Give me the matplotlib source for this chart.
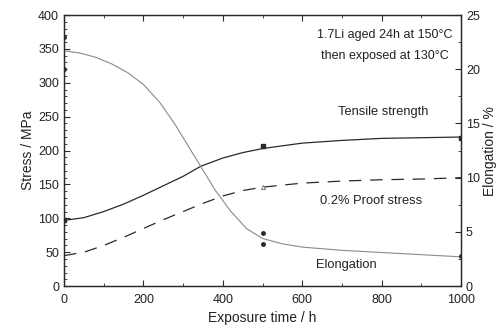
import matplotlib
matplotlib.use('Agg')
from matplotlib import pyplot as plt
from matplotlib.ticker import MultipleLocator

# curves
hours = [0, 50, 100, 150, 200, 250, 300, 345, 400, 450, 500, 600, 700, 800, 900, 1000]
tensile = [97, 101, 110, 121, 134, 148, 162, 177, 189, 197, 203, 211, 215, 218, 219, 220]
proof = [45, 50, 60, 72, 85, 98, 110, 121, 133, 141, 146, 152, 155, 157, 158, 160]
elong_hours = [0, 40, 80, 120, 160, 200, 240, 280, 320, 345, 380, 420, 460, 500, 550, 600, 700, 800, 900, 1000]
elongation = [21.7, 21.5, 21.1, 20.5, 19.7, 18.6, 17.0, 14.9, 12.5, 11.0, 8.9, 6.9, 5.3, 4.4, 3.9, 3.6, 3.3, 3.1, 2.9, 2.7]

# measured points
tensile_pts_x = [0, 500, 1000]
tensile_pts_y = [97, 207, 218]
proof_pts_x = [500]
proof_pts_y = [147]
elong_pts_x = [0, 0, 500, 500, 1000]
elong_pts_y = [23.0, 20.0, 4.9, 3.9, 2.8]

plt.rcParams['font.family'] = ['Liberation Sans', 'DejaVu Sans']
dark = '#2a2a2a'
light = '#8a8a8a'
txt = '#222222'

fig = plt.figure(figsize=(5, 3.27), dpi=100)
ax = fig.add_axes([0.128, 0.125, 0.794, 0.829])
ax2 = ax.twinx()

ax.plot(hours, tensile, color=dark, lw=0.9)
ax.plot(hours, proof, color=dark, lw=0.9, dashes=(10, 7))
ax.plot(tensile_pts_x, tensile_pts_y, 's', color=dark, ms=3)
ax.plot(proof_pts_x, proof_pts_y, '^', color='#777777', ms=3, mfc='none', mew=0.7)
ax2.plot(elong_hours, elongation, color=light, lw=0.8)
ax2.plot(elong_pts_x, elong_pts_y, 'o', color=dark, ms=2.5)

ax.set_xlim(0, 1000)
ax.set_ylim(0, 400)
ax2.set_ylim(0, 25)
ax.xaxis.set_major_locator(MultipleLocator(200))
ax.xaxis.set_minor_locator(MultipleLocator(100))
ax.yaxis.set_major_locator(MultipleLocator(50))
ax.yaxis.set_minor_locator(MultipleLocator(10))
ax2.yaxis.set_major_locator(MultipleLocator(5))
ax2.yaxis.set_minor_locator(MultipleLocator(2.5))

for a in (ax, ax2):
    a.tick_params(direction='in', which='both', colors=dark, labelsize=9, labelcolor=txt)
    a.tick_params(which='major', length=4, width=0.8)
    a.tick_params(which='minor', length=2, width=0.6)
    for s in a.spines.values():
        s.set_color(dark)
        s.set_linewidth(0.9)
ax.tick_params(top=True, which='both')
ax.tick_params(axis='x', pad=6)

ax.set_xlabel('Exposure time / h', fontsize=10, color=txt, labelpad=3)
ax.set_ylabel('Stress / MPa', fontsize=10, color=txt, labelpad=2)
ax2.set_ylabel('Elongation / %', fontsize=10, color=txt, labelpad=2)

ax.text(808, 370, '1.7Li aged 24h at 150°C', ha='center', va='center', fontsize=9, color=txt)
ax.text(808, 339, 'then exposed at 130°C', ha='center', va='center', fontsize=9, color=txt)
ax.text(803, 257, 'Tensile strength', ha='center', va='center', fontsize=9.3, color=txt)
ax.text(773, 125, '0.2% Proof stress', ha='center', va='center', fontsize=9.3, color=txt)
ax2.text(712, 1.95, 'Elongation', ha='center', va='center', fontsize=9.3, color=txt)

fig.savefig('out.png', dpi=100)
